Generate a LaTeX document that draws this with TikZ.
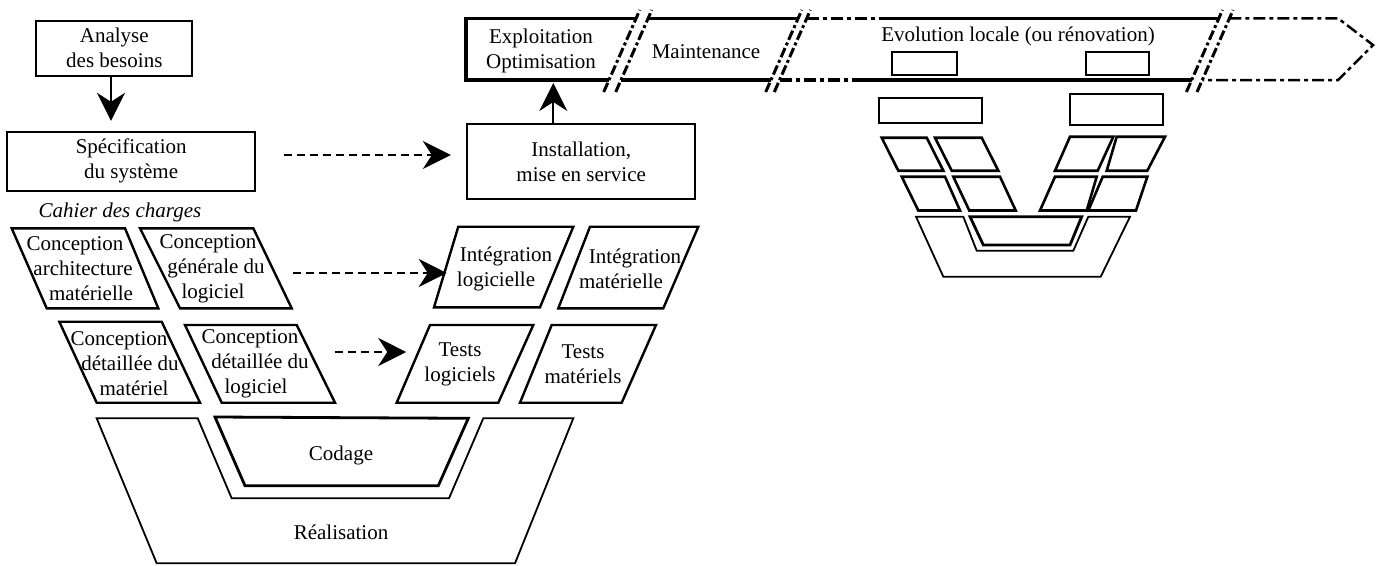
\documentclass[tikz,border=0pt]{standalone}
\usepackage{fontspec}
\setmainfont{Liberation Serif}
\usetikzlibrary{arrows.meta}
\newcommand\shiftln[2]{\hspace*{#1pt}#2\hspace*{-#1pt}}
\tikzset{
  txt/.style={font=\fontsize{21}{25}\selectfont, align=center, inner sep=0pt},
  box/.style={txt, draw, line width=1.8pt},
  pbox/.style={draw, line width=2.4pt, line join=miter},
  thinshape/.style={draw, line width=1.8pt, line join=miter},
  bigarrow/.style={-{Stealth[length=28pt,width=28pt,inset=9pt]}, line width=2pt},
  dasharrow/.style={bigarrow, dash pattern=on 8pt off 5pt},
  brk/.style={line width=3pt, dash pattern=on 10pt off 3pt on 3pt off 3pt},
  thickline/.style={line width=3.5pt},
  ddthick/.style={line width=3.5pt, dash pattern=on 12pt off 4pt on 4pt off 4pt},
  ddthin/.style={line width=2.5pt, dash pattern=on 12pt off 4pt on 4pt off 4pt, line join=miter},
  smallbox/.style={draw, line width=1.8pt},
  smallp/.style={draw, line width=2.6pt, line join=miter},
}
\begin{document}
\begin{tikzpicture}[x=1pt,y=-1pt]
\useasboundingbox (0,0) rectangle (1383,565);

% ---------- top boxes ----------
\node[box, minimum width=156pt, minimum height=55.3pt] (A) at (114.3,48.3) {Analyse\\des besoins};
\node[box, minimum width=247.7pt, minimum height=59pt] (S) at (131.2,161.2) {Spécification\\du système};
\node[txt, font=\fontsize{21}{25}\selectfont\itshape] (C) at (120,212) {Cahier des charges};
\node[box, minimum width=227.7pt, minimum height=75.3pt] (I) at (581.2,161.7) {Installation,\\mise en service};

\draw[bigarrow, shorten >=10pt] (A.south -| 111,0) -- (S.north -| 111,0);
\draw[dasharrow, shorten <=27.7pt, shorten >=15.6pt] (S.east |- 0,155) -- (I.west |- 0,155);

% ---------- left V : conception ----------
\draw[pbox] (11.7,228.3) -- (125,228.3) -- (158.3,308.3) -- (46.7,308.3) -- cycle;
\node[txt] (p1) at (83,269) {\shiftln{-8}{Conception}\\architecture\\\shiftln{8}{matérielle}};
\draw[pbox] (140,228.3) -- (253.3,228.3) -- (291.7,308.3) -- (180,308.3) -- cycle;
\node[txt] (p2) at (213,269) {\shiftln{-5}{Conception}\\\shiftln{6}{générale du}\\logiciel};
\draw[pbox] (59.3,321.7) -- (161.7,321.7) -- (200,402.7) -- (96.7,402.7) -- cycle;
\node[txt] (p3) at (128,364) {\shiftln{-9}{Conception}\\\shiftln{4}{détaillée du}\\\shiftln{6}{matériel}};
\draw[pbox] (185,325) -- (296.7,325) -- (335,402.7) -- (221.7,402.7) -- cycle;
\node[txt] (p4) at (256,364) {\shiftln{-6}{Conception}\\\shiftln{8}{détaillée du}\\logiciel};

% ---------- right side : integration / tests ----------
\draw[pbox] (458.3,226.7) -- (573.3,226.7) -- (540,307.3) -- (434,307.3) -- cycle;
\node[txt] (p5) at (501,269) {\shiftln{5}{Intégration}\\\shiftln{-5}{logicielle}};
\draw[pbox] (590,226.7) -- (698.3,226.7) -- (663.3,308.3) -- (558.3,308.3) -- cycle;
\node[txt] (p6) at (628,269) {\shiftln{7}{Intégration}\\\shiftln{-7}{matérielle}};
\draw[pbox] (430,325) -- (533.3,325) -- (498.3,402.7) -- (396.7,402.7) -- cycle;
\node[txt] (p7) at (460,364) {Tests\\logiciels};
\draw[pbox] (551.7,325) -- (656,325) -- (621.7,402.7) -- (520,402.7) -- cycle;
\node[txt] (p8) at (583,364) {Tests\\matériels};

\path (p2.east |- 0,273) ++(28,0) coordinate (d1s);
\path (p5.west |- 0,273) ++(-8,0) coordinate (d1e);
\draw[dasharrow] (d1s) -- (d1e);
\path (p4.east |- 0,352) ++(26,0) coordinate (d2s);
\path (p7.west |- 0,352) ++(-18,0) coordinate (d2e);
\draw[dasharrow] (d2s) -- (d2e);

% ---------- bottom : realisation / codage ----------
\draw[thinshape] (96.7,418.3) -- (197.7,418.3) -- (231.7,498.3) -- (449,498.3) -- (483.3,418.3)
  -- (573.3,418.3) -- (515,563.3) -- (156.7,563.3) -- cycle;
\draw[line width=2.8pt, line join=miter] (215,417) -- (468.3,418.3) -- (438.3,485.7) -- (245,485.7) -- cycle;
\node[txt] (cod) at (341,455) {Codage};
\node[txt] (real) at (341,532) {Réalisation};

% ---------- banner ----------
\node[txt] (E) at (541,51) {Exploitation\\Optimisation};
\node[txt] (M) at (706,52) {Maintenance};
\node[txt] (V) at (1018,36) {Evolution locale (ou rénovation)};
\draw[bigarrow, shorten >=3pt] (I.north -| 553.3,0) -- (553.3,80);

\draw[thickline, line join=miter] (636.1,18.3) -- (466,18.3) -- (466,80) -- (609,80);
\draw[thickline] (648.1,18.3) -- (798.1,18.3);
\draw[thickline] (621,80) -- (771,80);
\draw[ddthick] (806.7,18.3) -- (880,18.3);
\draw[thickline] (880,18.3) -- (1218.8,18.3);
\draw[ddthick] (779.6,80) -- (860,80);
\draw[thickline] (860,80) -- (1191.7,80);
\draw[ddthin] (1229.4,18.3) -- (1338,18.3) -- (1373,45) -- (1338,80) -- (1202.3,80);

\foreach \xb in {609,621,771,779.6,1191.7,1202.3}
  \draw[brk] (\xb-5.3,92) -- (\xb+30.8,10);

% ---------- small V on the right ----------
\draw[smallbox] (891.7,52.3) rectangle (956.7,75);
\draw[smallbox] (1085.7,52.3) rectangle (1148.7,75);
\draw[smallbox] (879.3,98.3) rectangle (982.3,122.7);
\draw[smallbox] (1070,94.3) rectangle (1162.7,125);

\draw[smallp] (881.7,137.7) -- (926.7,137.7) -- (943.3,170.7) -- (898.3,170.7) -- cycle;
\draw[smallp] (935,137.7) -- (981.7,137.7) -- (998.3,170.7) -- (951.7,170.7) -- cycle;
\draw[smallp] (1070,136.7) -- (1113.3,136.7) -- (1097.7,170.7) -- (1055,170.7) -- cycle;
\draw[smallp] (1116.7,136.7) -- (1165,136.7) -- (1147.3,170.7) -- (1106.7,170.7) -- cycle;
\draw[smallp] (901.7,176.7) -- (945,176.7) -- (960,210.5) -- (918.3,210.5) -- cycle;
\draw[smallp] (953.3,176.7) -- (1000,176.7) -- (1015.7,210.5) -- (969.3,210.5) -- cycle;
\draw[smallp] (1055,176.7) -- (1096.7,176.7) -- (1086.7,210.5) -- (1040,210.5) -- cycle;
\draw[smallp] (1102.7,176.7) -- (1147.3,176.7) -- (1136,210.5) -- (1088.3,210.5) -- cycle;

\draw[thinshape] (916,216.7) -- (963.3,216.7) -- (976.7,250.7) -- (1073.3,250.7) -- (1088.3,216.7)
  -- (1130,216.7) -- (1100.7,276.7) -- (943.3,276.7) -- cycle;
\draw[line width=2.8pt, line join=miter] (970,216.7) -- (1081.7,216.7) -- (1070,245) -- (983.3,245) -- cycle;
\end{tikzpicture}
\end{document}
